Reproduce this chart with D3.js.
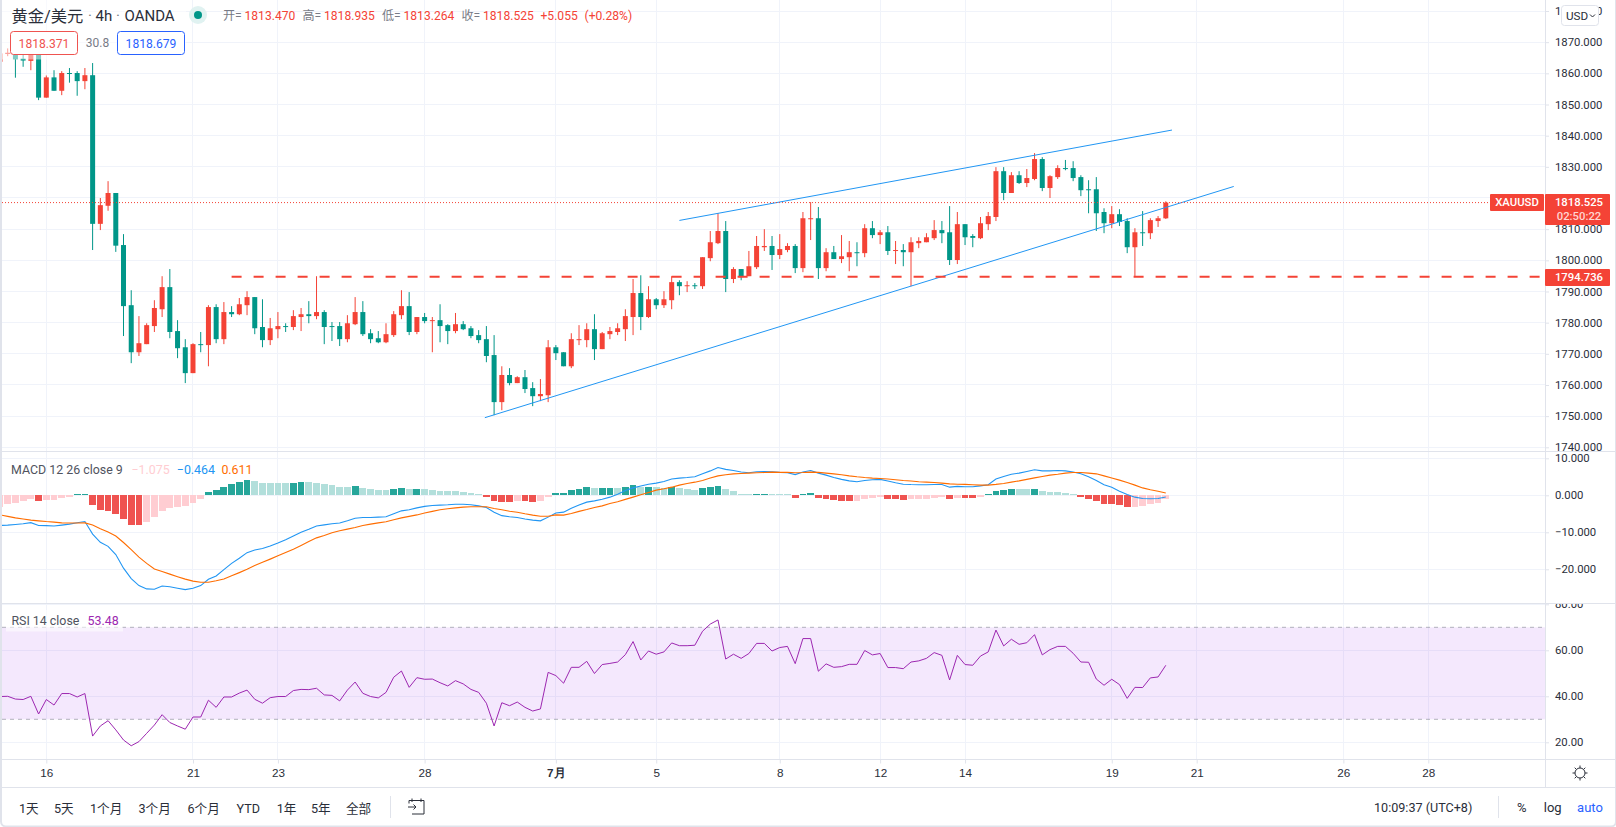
<!DOCTYPE html>
<html lang="zh">
<head>
<meta charset="UTF-8">
<title>黄金/美元 4h</title>
<script src="https://cdn.jsdelivr.net/npm/d3@7"></script>
<style>
  html, body { margin: 0; padding: 0; background: #fff; overflow: hidden; }
  svg { display: block; font-family: Roboto, "Noto Sans CJK SC", sans-serif; }
  .tick text { fill: #2a2e39; }
</style>
</head>
<body>
<svg id="chart" width="1616" height="827"></svg>
<script>
// bar number 0 is the first 4h bar of the 16th; the chart opens six bars before it
const firstBar = -6;

const opens = [
  1863.7,1866.2,1866.4,1864.7,1864.0,1866.9,1852.2,1858.7,1854.4,1860.1,
  1860.1,1857.5,1859.4,1811.7,1817.5,1821.6,1804.9,1785.6,1770.5,1773.1,
  1778.9,1784.3,1791.4,1777.3,1772.1,1763.8,1773.1,1772.8,1785.0,1774.7,
  1783.4,1782.7,1785.6,1788.2,1778.6,1774.4,1777.9,1778.9,1778.6,1781.8,
  1782.7,1782.1,1783.4,1778.9,1778.9,1774.7,1779.5,1783.4,1776.6,1775.0,
  1773.7,1776.0,1782.4,1785.3,1777.0,1781.8,1780.5,1780.8,1779.2,1777.3,
  1779.5,1778.2,1776.0,1774.7,1769.6,1754.5,1763.2,1760.6,1762.5,1759.0,
  1756.4,1756.7,1772.1,1770.5,1766.0,1774.4,1774.4,1777.9,1771.5,1776.3,
  1777.0,1777.9,1781.8,1789.5,1781.8,1787.5,1785.6,1787.2,1793.0,1791.7,
  1792.0,1791.7,1800.7,1805.5,1809.4,1794.0,1797.2,1794.9,1797.8,1804.2,
  1804.6,1801.7,1803.3,1804.6,1797.5,1813.2,1813.5,1797.5,1802.6,1800.4,
  1801.0,1802.6,1802.3,1810.3,1808.1,1809.0,1803.0,1803.3,1802.6,1805.5,
  1805.8,1807.1,1809.7,1809.0,1800.1,1811.6,1807.8,1807.1,1811.6,1813.9,
  1828.6,1821.6,1827.3,1824.8,1826.1,1832.5,1823.2,1826.7,1829.6,1829.6,
  1826.7,1822.8,1822.8,1815.5,1811.9,1814.8,1812.6,1804.2,1809.0,1808.7,
  1812.6,1813.47
];
const highs = [
  1867.0,1868.0,1867.5,1865.9,1866.4,1867.5,1859.3,1861.0,1860.7,1861.7,
  1860.7,1861.7,1863.3,1820.0,1825.4,1821.6,1808.4,1790.4,1782.1,1779.8,
  1787.2,1794.9,1797.2,1780.8,1774.7,1773.4,1777.0,1785.6,1785.9,1786.6,
  1785.3,1787.9,1790.1,1788.2,1787.5,1781.5,1783.4,1779.8,1784.0,1784.7,
  1786.9,1794.9,1784.0,1780.2,1780.2,1782.4,1788.2,1786.9,1777.9,1777.3,
  1779.8,1783.7,1790.4,1789.8,1781.8,1783.1,1781.8,1785.9,1779.5,1783.1,
  1780.5,1778.9,1777.6,1778.9,1776.0,1766.0,1765.4,1762.8,1764.8,1760.9,
  1761.9,1774.4,1772.8,1770.5,1776.6,1779.2,1779.8,1782.7,1777.0,1778.6,
  1779.8,1784.3,1794.0,1795.2,1791.7,1787.9,1790.1,1794.9,1793.6,1793.3,
  1792.7,1801.0,1809.4,1815.1,1812.6,1797.8,1797.2,1803.0,1807.8,1810.0,
  1807.8,1808.4,1805.5,1805.2,1815.5,1818.7,1817.1,1803.9,1804.6,1808.1,
  1806.2,1805.8,1811.6,1812.6,1809.7,1811.0,1806.2,1805.2,1807.4,1807.4,
  1808.7,1812.9,1812.6,1817.4,1815.5,1811.6,1808.4,1813.9,1815.5,1829.9,
  1829.9,1828.3,1828.6,1829.3,1834.4,1833.1,1827.3,1830.5,1832.2,1831.8,
  1827.3,1825.7,1826.7,1816.7,1817.4,1816.4,1813.5,1810.3,1815.8,1813.5,
  1814.2,1818.935
];
const lows = [
  1863.5,1865.5,1858.6,1862.1,1861.0,1851.4,1852.2,1854.4,1853.0,1857.0,
  1852.8,1854.9,1803.3,1809.7,1815.9,1802.7,1775.7,1767.0,1769.3,1773.1,
  1777.0,1781.8,1775.0,1768.6,1760.6,1763.8,1770.5,1766.0,1773.4,1773.1,
  1781.8,1782.4,1782.4,1776.3,1772.1,1772.8,1775.0,1777.0,1777.6,1777.3,
  1779.8,1781.1,1773.1,1774.1,1772.5,1773.7,1779.2,1775.7,1773.4,1773.4,
  1773.4,1775.4,1781.1,1776.0,1776.3,1779.8,1770.5,1773.7,1773.1,1776.6,
  1777.6,1775.0,1773.4,1767.3,1750.3,1751.9,1759.9,1760.6,1757.4,1753.2,
  1754.8,1754.5,1768.0,1766.0,1765.4,1772.8,1772.1,1768.0,1771.5,1774.7,
  1776.0,1774.1,1776.0,1777.6,1781.5,1784.3,1784.7,1784.3,1788.8,1789.8,
  1790.8,1790.8,1799.7,1805.2,1789.8,1792.7,1793.6,1794.9,1797.2,1803.0,
  1796.9,1800.4,1802.6,1795.9,1796.2,1806.5,1794.0,1796.5,1800.4,1799.1,
  1796.5,1798.1,1801.0,1807.1,1805.2,1801.7,1798.8,1798.1,1791.7,1803.9,
  1805.8,1806.5,1805.5,1798.5,1798.8,1804.9,1804.2,1806.8,1809.7,1812.6,
  1819.3,1821.6,1824.5,1823.5,1825.7,1822.2,1820.0,1826.1,1828.9,1825.4,
  1820.6,1815.1,1809.4,1808.7,1810.3,1811.0,1802.3,1794.6,1804.6,1806.8,
  1810.7,1813.264
];
const closes = [
  1866.4,1866.6,1864.5,1864.1,1865.9,1852.2,1858.7,1854.4,1860.1,1859.8,
  1857.5,1859.4,1811.7,1817.7,1821.6,1804.7,1785.3,1770.5,1773.4,1779.2,
  1784.7,1791.4,1777.0,1771.8,1763.8,1773.1,1772.8,1785.0,1774.7,1783.4,
  1782.7,1785.9,1788.2,1778.2,1774.4,1778.2,1778.9,1778.6,1782.1,1782.7,
  1782.1,1783.4,1778.6,1778.6,1774.7,1779.8,1783.4,1776.3,1774.7,1773.7,
  1776.3,1782.7,1785.3,1777.0,1781.8,1780.5,1780.8,1778.9,1777.3,1779.5,
  1777.9,1775.7,1774.4,1769.3,1754.5,1763.2,1760.6,1762.5,1758.7,1756.4,
  1757.1,1772.1,1770.2,1766.0,1774.7,1774.7,1777.9,1771.5,1776.6,1777.3,
  1778.2,1782.1,1789.5,1781.8,1787.5,1785.6,1787.5,1793.0,1791.7,1792.0,
  1791.7,1801.0,1805.8,1809.4,1794.0,1797.2,1794.6,1798.1,1804.6,1804.6,
  1801.7,1803.6,1804.6,1797.5,1813.5,1813.5,1797.5,1802.6,1800.4,1801.3,
  1802.6,1802.3,1810.3,1808.1,1809.0,1803.0,1803.3,1802.6,1805.8,1806.2,
  1807.4,1809.7,1808.7,1800.1,1811.6,1807.4,1807.2,1811.9,1814.2,1828.6,
  1821.6,1827.3,1824.8,1826.4,1832.5,1823.2,1827.0,1829.6,1829.3,1826.4,
  1822.5,1822.5,1815.1,1811.9,1814.8,1812.3,1804.2,1809.0,1808.7,1812.9,
  1813.5,1818.525
];

const macdHist = [
  -3.1,-2.3,-2.1,-1.5,-1.0,-1.5,-1.3,-1.25,-0.7,-0.45,
  0.1,0.4,-2.6,-4.0,-4.2,-5.0,-6.4,-8.0,-8.05,-7.2,
  -5.9,-4.2,-3.4,-3.2,-2.9,-2.1,-1.0,0.9,1.45,2.25,
  3.1,3.6,4.1,3.9,3.3,3.28,3.26,3.24,3.35,3.6,
  3.55,3.3,3.1,2.8,2.25,2.2,2.5,2.0,1.7,1.45,
  1.42,1.7,2.0,1.7,1.75,1.7,1.45,1.2,1.15,1.1,
  0.9,0.6,0.3,-0.45,-1.5,-1.8,-1.85,-1.5,-1.55,-1.8,
  -1.5,-0.45,0.6,0.65,1.45,1.7,2.25,2.0,2.05,2.1,
  2.0,2.25,2.8,2.25,2.3,2.2,2.0,2.25,2.0,1.7,
  1.45,2.0,2.25,2.5,1.7,1.1,0.35,0.1,0.35,0.4,
  0.1,0.09,0.08,-0.7,0.1,0.6,-0.7,-1.0,-1.3,-1.5,
  -1.55,-1.5,-1.0,-0.7,-0.45,-1.0,-1.05,-1.3,-1.0,-0.98,
  -0.96,-0.7,-0.45,-1.0,-0.7,-0.75,-0.8,-0.45,0.1,1.2,
  1.45,1.7,1.68,1.66,1.7,1.2,0.95,0.9,0.6,0.35,
  -0.45,-1.0,-1.5,-2.3,-2.35,-2.6,-3.2,-3.18,-2.9,-2.3,
  -2.1,-1.075
];
const macdLine = [
  -8.15,-8.06,-7.9,-7.7,-7.4,-8.15,-8.2,-8.3,-8.06,-7.8,
  -7.4,-7.1,-10.5,-12.7,-13.8,-16,-19.7,-22.5,-24.4,-25.3,
  -25.4,-24.5,-24.7,-25.1,-25.5,-25.1,-24.4,-22.7,-21.8,-20.1,
  -18.4,-17,-15.5,-14.8,-14.4,-13.7,-12.9,-12,-11,-10,
  -9.2,-8.3,-8,-7.7,-7.5,-6.9,-6.2,-6,-6,-5.9,
  -5.8,-5,-4.2,-3.9,-3.4,-3,-2.75,-2.65,-2.55,-2.4,
  -2.4,-2.55,-2.85,-3.3,-4.6,-5.5,-5.8,-6,-6.4,-6.7,
  -6.9,-5.9,-4.8,-4.55,-3.5,-2.65,-1.85,-1.5,-1.05,-0.5,
  0.3,1.3,2,2.5,3,3.3,3.75,4.4,4.65,4.8,
  5,5.8,6.6,7.5,7,6.7,6.3,6.1,6.35,6.45,
  6.35,6.2,6.1,5.6,6.3,6.7,6,5.45,4.8,4.3,
  3.9,3.65,4,4.2,4.3,3.85,3.4,3,2.9,2.85,
  2.85,2.9,2.9,2.2,2.4,2.3,2.3,2.55,2.85,4.4,
  5.1,5.7,6,6.45,6.9,6.6,6.6,6.7,6.6,6.3,
  5.8,5,4,2.85,2.2,1.1,0.2,-0.5,-0.85,-0.95,
  -0.85,-0.464
];
const signalLine = [
  -5.3,-5.7,-6.1,-6.4,-6.7,-6.9,-7.1,-7.25,-7.45,-7.5,
  -7.5,-7.45,-8.05,-9.05,-9.95,-11,-12.75,-14.7,-16.7,-18.4,
  -19.9,-20.6,-21.3,-22,-22.65,-23.2,-23.5,-23.5,-23.1,-22.6,
  -21.75,-20.9,-20,-19,-18.1,-17.25,-16.35,-15.45,-14.55,-13.55,
  -12.5,-11.5,-10.85,-10.1,-9.6,-9.15,-8.7,-8.15,-7.8,-7.45,
  -7.15,-6.6,-6.1,-5.7,-5.3,-4.8,-4.35,-3.9,-3.65,-3.4,
  -3.2,-3.1,-3.1,-3.1,-3.55,-3.9,-4.3,-4.6,-5,-5.35,
  -5.65,-5.65,-5.3,-5.35,-4.9,-4.35,-3.85,-3.3,-2.85,-2.2,
  -1.75,-1.1,-0.5,0.15,0.75,1.4,1.75,2.2,2.75,3.2,
  3.55,4,4.65,5.25,5.55,5.8,5.9,6,6.1,6.15,
  6.25,6.2,6.2,6.1,6.15,6.25,6.2,6,5.8,5.55,
  5.25,5,4.8,4.65,4.55,4.4,4.2,4,3.85,3.65,
  3.55,3.45,3.3,3.1,3,2.95,2.85,2.75,2.75,2.95,
  3.2,3.55,3.9,4.3,4.7,5.1,5.45,5.7,6,6.15,
  6.15,6,5.8,5.25,4.7,4.1,3.45,2.75,2,1.5,
  1.1,0.611
];
const rsiValues = [
  39.9,40,38.8,38.6,40,32.3,38.6,36.2,41.2,41.2,
  39.7,41.2,22.7,27.1,29.4,25.4,21,18.5,20.3,23.9,
  27.5,32,28.6,27.1,25.7,31,31,38.3,35.2,39.7,
  39.7,41.4,42.7,38.7,37,39.4,39.9,39.9,42.5,43,
  42.9,43.5,40.6,40.4,38,42.7,46.2,41.3,39.9,39.3,
  41.7,48.3,51,43.9,48.1,47.4,47.5,45.9,44.5,46.8,
  45.4,43,41.7,37,27.1,37.2,35.9,37.5,35.2,33.6,
  34.5,50.4,49,45.7,52.6,52.6,55.2,49.9,53.8,54.3,
  54.9,58.1,63.8,55.8,59.7,58.3,59.3,63.2,62,62,
  62.2,68.3,71.4,73.2,56.2,58.3,56.5,58.6,63,63,
  59.7,61.2,61.7,54.2,65.1,65.1,50.9,54.1,52.6,52.9,
  53.9,53.9,59.9,58,58.6,52.5,52.5,52,54.9,55.4,
  56.5,59,57.8,47.1,57.8,53.8,53.5,57.5,59.3,68.8,
  61.9,64.8,62.6,63.3,66.8,58,60.3,61.7,61.7,58.7,
  54.9,54.8,47.5,44.8,47.4,45.1,39.1,43.9,43.8,48,
  48.4,53.48
];

const priceTicks = [1880,1870,1860,1850,1840,1830,1820,1810,1800,1790,1780,1770,1760,1750,1740];
const macdTicks = [10,0,-10,-20];
const rsiTicks = [80,60,40,20];
const dateBars = [0,19,30,49,66,79,95,108,119,138,149,168,179];
const dateLabels = ["16","21","23","28","7月","5","8","12","14","19","21","26","28"];

const lastPrice = 1818.525;
const supportPrice = 1794.736;
const supportStartBar = 24;
const channelUpperBars = [82, 145.8];
const channelUpperPrices = [1812.8, 1841.8];
const channelLowerBars = [56.8, 153.8];
const channelLowerPrices = [1749.5, 1823.7];
const rsiBand = [70, 30];

const rangeButtons = ["1天","5天","1个月","3个月","6个月","YTD","1年","5年","全部"];
const rangeButtonX = [19,54,90,138.5,187.5,236.5,276.7,311,346];

const red = "#f44336", green = "#009688", gridColor = "#f0f3fa", lineColor = "#e0e3eb", textColor = "#2a2e39", grey = "#787b86";

const svg = d3.select("#chart");
const plotRight = 1545, plotLeft = 2, mainBottom = 451.5, macdBottom = 603.5, plotBottom = 759.5, axisBottom = 787.5;

const x = d3.scaleLinear().domain([0, 179]).range([46.3, 1428.3]);
const yPrice = d3.scaleLinear().domain([1880, 1740]).range([11, 447.3]);
const yMacd = d3.scaleLinear().domain([10, -20]).range([458.3, 569.3]);
const yRsi = d3.scaleLinear().domain([60, 20]).range([650.3, 742.3]);
const barX = i => x(i + firstBar);

// clip areas for panes and for the axis labels next to them
const defs = svg.append("defs");
function addClip(id, x0, y0, w, h) {
  defs.append("clipPath").attr("id", id).append("rect").attr("x", x0).attr("y", y0).attr("width", w).attr("height", h);
}
addClip("clipMain", plotLeft, 0, plotRight - plotLeft, mainBottom);
addClip("clipMacd", plotLeft, mainBottom, plotRight - plotLeft, macdBottom - mainBottom);
addClip("clipRsi", plotLeft, macdBottom, plotRight - plotLeft, plotBottom - macdBottom);
addClip("clipAxisMain", plotRight, 0, 80, mainBottom);
addClip("clipAxisMacd", plotRight, mainBottom, 80, macdBottom - mainBottom);
addClip("clipAxisRsi", plotRight, macdBottom, 80, plotBottom - macdBottom);

// grid
const grid = svg.append("g").attr("stroke", gridColor).attr("stroke-width", 1).attr("shape-rendering", "crispEdges");
function hGrid(ticks, scale, clip) {
  grid.append("g").attr("clip-path", "url(#" + clip + ")").selectAll("line").data(ticks).join("line")
    .attr("x1", plotLeft).attr("x2", plotRight).attr("y1", scale).attr("y2", scale);
}
hGrid(priceTicks, yPrice, "clipMain");
hGrid(macdTicks, yMacd, "clipMacd");
hGrid(rsiTicks, yRsi, "clipRsi");
grid.append("g").selectAll("line").data(dateBars).join("line")
  .attr("x1", x).attr("x2", x).attr("y1", 0).attr("y2", plotBottom);

// candles
const main = svg.append("g").attr("clip-path", "url(#clipMain)");
const candleColor = i => closes[i] >= opens[i] ? red : green;
main.append("g").selectAll("line").data(d3.range(opens.length)).join("line")
  .attr("x1", barX).attr("x2", barX)
  .attr("y1", i => yPrice(highs[i])).attr("y2", i => yPrice(lows[i]))
  .attr("stroke", candleColor).attr("stroke-width", 1);
main.append("g").selectAll("rect").data(d3.range(opens.length)).join("rect")
  .attr("x", i => barX(i) - 2.5).attr("width", 5)
  .attr("y", i => yPrice(Math.max(opens[i], closes[i])))
  .attr("height", i => Math.max(1, Math.abs(yPrice(opens[i]) - yPrice(closes[i]))))
  .attr("fill", candleColor);

// drawings on the price pane
const priceLine = d3.line().x(d => x(d[0])).y(d => yPrice(d[1]));
main.append("path").attr("d", priceLine(d3.zip(channelUpperBars, channelUpperPrices)))
  .attr("fill", "none").attr("stroke", "#2196f3").attr("stroke-width", 1);
main.append("path").attr("d", priceLine(d3.zip(channelLowerBars, channelLowerPrices)))
  .attr("fill", "none").attr("stroke", "#2196f3").attr("stroke-width", 1);
main.append("line").attr("x1", x(supportStartBar)).attr("x2", plotRight)
  .attr("y1", yPrice(supportPrice)).attr("y2", yPrice(supportPrice))
  .attr("stroke", red).attr("stroke-width", 2).attr("stroke-dasharray", "10,12");
main.append("line").attr("x1", plotLeft).attr("x2", 1490)
  .attr("y1", yPrice(lastPrice)).attr("y2", yPrice(lastPrice))
  .attr("stroke", red).attr("stroke-width", 1).attr("stroke-dasharray", "1,2");

// macd pane, colours follow whether the bar grows or shrinks against the previous one
const macdPane = svg.append("g").attr("clip-path", "url(#clipMacd)");
function histColor(i) {
  const v = macdHist[i], prev = macdHist[i - 1];
  const growing = i > 0 && Math.abs(v) > Math.abs(prev);
  const crossed = i > 0 && v * prev < 0;
  if (v >= 0) return growing || crossed ? "#26a69a" : "#b2dfdb";
  return growing || crossed ? "#ef5350" : "#ffcdd2";
}
macdPane.append("g").attr("shape-rendering", "crispEdges").selectAll("rect").data(d3.range(macdHist.length)).join("rect")
  .attr("x", i => barX(i) - 3.4).attr("width", 6.8)
  .attr("y", i => macdHist[i] >= 0 ? Math.min(yMacd(macdHist[i]), yMacd(0) - 1) : yMacd(0))
  .attr("height", i => Math.max(1, Math.abs(yMacd(macdHist[i]) - yMacd(0))))
  .attr("fill", histColor);
const macdPath = d3.line().x((d, i) => barX(i)).y(d => yMacd(d));
macdPane.append("path").attr("d", macdPath(macdLine)).attr("fill", "none").attr("stroke", "#2196f3").attr("stroke-width", 1.1);
macdPane.append("path").attr("d", macdPath(signalLine)).attr("fill", "none").attr("stroke", "#ff6d00").attr("stroke-width", 1.1);

// rsi pane
const rsiPane = svg.append("g").attr("clip-path", "url(#clipRsi)");
rsiPane.append("rect").attr("x", plotLeft).attr("width", plotRight - plotLeft)
  .attr("y", yRsi(rsiBand[0])).attr("height", yRsi(rsiBand[1]) - yRsi(rsiBand[0]))
  .attr("fill", "rgba(135,5,235,0.09)");
rsiPane.append("g").selectAll("line").data(rsiBand).join("line")
  .attr("x1", plotLeft).attr("x2", plotRight).attr("y1", yRsi).attr("y2", yRsi)
  .attr("stroke", grey).attr("stroke-opacity", 0.55).attr("stroke-dasharray", "4,4");
rsiPane.append("rect").attr("x", plotLeft + 4).attr("y", 610).attr("width", 117).attr("height", 21.5).attr("fill", "#fff").attr("fill-opacity", 0.55);
rsiPane.append("path").attr("d", d3.line().x((d, i) => barX(i)).y(d => yRsi(d))(rsiValues))
  .attr("fill", "none").attr("stroke", "#9c27b0").attr("stroke-width", 1);

// axes, the clip sits on an outer group so it stays in page coordinates
function rightAxis(scale, ticks, fmt, clip) {
  const g = svg.append("g").attr("clip-path", "url(#" + clip + ")").append("g")
    .attr("transform", "translate(" + plotRight + ",0)")
    .call(d3.axisRight(scale).tickValues(ticks).tickFormat(fmt).tickSize(4).tickPadding(6));
  g.select(".domain").remove();
  g.selectAll("line").attr("stroke", lineColor);
  g.selectAll("text").attr("font-size", 11.3).attr("font-family", "Roboto, sans-serif");
}
rightAxis(yPrice, priceTicks, d3.format(".3f"), "clipAxisMain");
rightAxis(yMacd, macdTicks, d3.format(".3f"), "clipAxisMacd");
rightAxis(yRsi, rsiTicks, d3.format(".2f"), "clipAxisRsi");

const dateAxis = svg.append("g").attr("transform", "translate(0," + plotBottom + ")")
  .call(d3.axisBottom(x).tickValues(dateBars).tickFormat((d, i) => dateLabels[i]).tickSize(4).tickPadding(5));
dateAxis.select(".domain").remove();
dateAxis.selectAll("line").attr("stroke", lineColor);
dateAxis.selectAll("text").attr("font-size", 11.7)
  .attr("font-weight", (d, i) => dateLabels[i].includes("月") ? 700 : 400);

// pane frames
const frame = svg.append("g").attr("stroke", lineColor).attr("shape-rendering", "crispEdges");
frame.append("line").attr("x1", plotLeft).attr("x2", 1616).attr("y1", mainBottom).attr("y2", mainBottom).attr("stroke-width", 1.5);
frame.append("line").attr("x1", plotLeft).attr("x2", 1616).attr("y1", macdBottom).attr("y2", macdBottom).attr("stroke-width", 1.5);
frame.append("line").attr("x1", plotLeft).attr("x2", 1616).attr("y1", plotBottom).attr("y2", plotBottom);
frame.append("line").attr("x1", plotLeft).attr("x2", 1616).attr("y1", axisBottom).attr("y2", axisBottom);
frame.append("line").attr("x1", plotRight + 0.5).attr("x2", plotRight + 0.5).attr("y1", 0).attr("y2", axisBottom);
frame.append("line").attr("x1", 390.5).attr("x2", 390.5).attr("y1", 796).attr("y2", 818);
frame.append("line").attr("x1", 1498.5).attr("x2", 1498.5).attr("y1", 796).attr("y2", 818);

// text helper
function label(txt, px, py, size, fill, anchor, weight) {
  return svg.append("text").attr("x", px).attr("y", py).attr("font-size", size).attr("fill", fill)
    .attr("text-anchor", anchor || "start").attr("font-weight", weight || 400)
    .attr("dominant-baseline", "central").text(txt);
}

// legend at the top left
svg.append("rect").attr("x", plotLeft).attr("y", 0).attr("width", 184).attr("height", 59.5).attr("fill", "#fff").attr("fill-opacity", 0.5);
label("黄金/美元", 11.5, 16, 16.3, textColor);
label("·", 88, 16, 15, grey);
label("4h", 95.5, 16, 15, textColor);
label("·", 116, 16, 15, grey);
label("OANDA", 124.5, 16, 15, textColor);
svg.append("circle").attr("cx", 198).attr("cy", 15).attr("r", 9).attr("fill", "#e0f2f1");
svg.append("circle").attr("cx", 198).attr("cy", 15).attr("r", 4).attr("fill", green);

const ohlcParts = [["开=", grey, 223], ["1813.470", red, 244.5], ["高=", grey, 302.5], ["1818.935", red, 324], ["低=", grey, 382], ["1813.264", red, 403.5], ["收=", grey, 461.5], ["1818.525", red, 483], ["+5.055", red, 540.5], ["(+0.28%)", red, 584.5]];
ohlcParts.forEach(p => label(p[0], p[2], 16, 12.1, p[1]));

svg.append("rect").attr("x", 10.5).attr("y", 31.5).attr("width", 67).attr("height", 23).attr("rx", 3)
  .attr("fill", "#fff").attr("stroke", "#ef5350");
label("1818.371", 44, 43.5, 12.1, "#ef5350", "middle");
label("30.8", 97.5, 43, 12, grey, "middle");
svg.append("rect").attr("x", 117.5).attr("y", 31.5).attr("width", 67).attr("height", 23).attr("rx", 3)
  .attr("fill", "#fff").attr("stroke", "#2962ff");
label("1818.679", 151, 43.5, 12.1, "#2962ff", "middle");

// macd and rsi legends
label("MACD 12 26 close 9", 11, 469, 12.4, "#50535e");
label("\u22121.075", 131.5, 469, 12.4, "#ffcdd2");
label("\u22120.464", 176.8, 469, 12.4, "#2196f3");
label("0.611", 221.4, 469, 12.4, "#ff6d00");
label("RSI 14 close", 11.4, 620.5, 12.4, "#50535e");
label("53.48", 87.5, 620.5, 12.4, "#9c27b0");

// tags on the price axis
svg.append("rect").attr("x", 1490).attr("y", 194).attr("width", 54).attr("height", 17).attr("rx", 1).attr("fill", red);
label("XAUUSD", 1517, 202.8, 11.3, "#fff", "middle", 500);
svg.append("rect").attr("x", 1545).attr("y", 194).attr("width", 65).attr("height", 31).attr("rx", 1).attr("fill", red);
label("1818.525", 1579, 202.8, 11.3, "#fff", "middle", 500);
label("02:50:22", 1579, 216.7, 11.3, "#ffd5d1", "middle", 500);
svg.append("rect").attr("x", 1545).attr("y", 269).attr("width", 65).attr("height", 17).attr("rx", 1).attr("fill", red);
label("1794.736", 1579, 277.6, 11.3, "#fff", "middle", 500);

// currency button
svg.append("rect").attr("x", 1561.5).attr("y", 5.5).attr("width", 37).attr("height", 20).attr("rx", 3)
  .attr("fill", "#fff").attr("stroke", lineColor);
label("USD", 1566, 15.5, 11.7, textColor);
svg.append("path").attr("d", "M1590 14.5l2.5 2.5 2.5-2.5").attr("fill", "none").attr("stroke", textColor);

// bottom bar
rangeButtons.forEach((t, i) => label(t, rangeButtonX[i], 808, 12.6, textColor));
svg.append("path").attr("d", "M409 803.5v-3h15v13.5h-12M412 798.5v3.5M421 798.5v3.5M408 807h8l-2.5-2.5M416 807l-2.5 2.5")
  .attr("fill", "none").attr("stroke", textColor);
label("10:09:37 (UTC+8)", 1374, 807.5, 12.6, textColor);
label("%", 1521.7, 807.5, 13, textColor, "middle");
label("log", 1552.7, 807.5, 13, textColor, "middle");
label("auto", 1590, 807.5, 13, "#2962ff", "middle");

// settings icon under the price axis
svg.append("circle").attr("cx", 1580).attr("cy", 773).attr("r", 5).attr("fill", "none").attr("stroke", textColor);
svg.append("path").attr("d", "M1580 765.5v2.5M1580 778v2.5M1572.5 773h2.5M1585 773h2.5M1574.7 767.7l1.7 1.7M1583.6 776.6l1.7 1.7M1574.7 778.3l1.7-1.7M1583.6 769.4l1.7-1.7")
  .attr("stroke", textColor).attr("fill", "none");

// outer rounded border of the widget
svg.append("rect").attr("x", 1).attr("y", -10).attr("width", 1615).attr("height", 836.5).attr("rx", 5)
  .attr("fill", "none").attr("stroke", lineColor).attr("stroke-width", 2);
</script>
</body>
</html>
